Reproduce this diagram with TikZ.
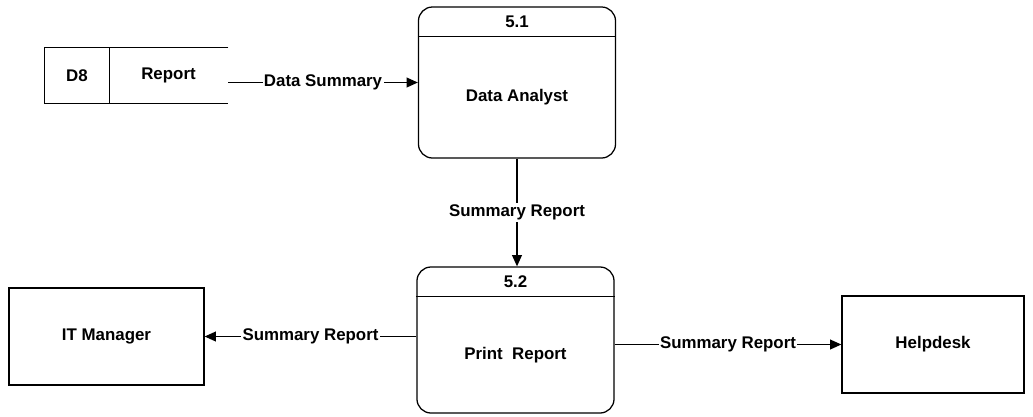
\documentclass[tikz,border=0pt]{standalone}
\usepackage{fontspec}
\setmainfont{Liberation Sans}
\usetikzlibrary{positioning,calc,arrows.meta}

\tikzset{
    box/.style={draw, line width=0.9pt, inner sep=0pt},
    proc/.style={box, rounded corners=10pt, minimum width=4.925cm},
    flow/.style={line width=0.9pt, -{Triangle[length=8pt,width=7pt]}},
    lbl/.style={fill=white, inner sep=1pt},
}

\begin{document}
\begin{tikzpicture}[x=0.025cm, y=-0.025cm, font=\fontsize{12}{14}\selectfont\bfseries]
    \useasboundingbox (0,0) rectangle (1033,416);

    % data store
    \node (d8)  [minimum width=1.6cm, minimum height=1.375cm, inner sep=0pt] at (77,75.5) {D8};
    \node (rep) [minimum width=2.975cm, minimum height=1.375cm, inner sep=0pt] at (168.5,75.5) {Report};
    \draw[line width=0.9pt] (rep.north east) -- (d8.north west) -- (d8.south west) -- (rep.south east);
    \draw[line width=0.9pt] (d8.north east) -- (d8.south east);

    % processes
    \node (p51) [proc, minimum height=3.775cm] at (517,82.5) {};
    \draw[line width=0.9pt] ([yshift=-0.75cm]p51.north west) -- ([yshift=-0.75cm]p51.north east);
    \node (n51) at ([yshift=-0.375cm]p51.north) {5.1};
    \node (t51) at (517,97.5) {Data Analyst};

    \node (p52) [proc, minimum height=3.65cm] at (515.5,340) {};
    \draw[line width=0.9pt] ([yshift=-0.75cm]p52.north west) -- ([yshift=-0.75cm]p52.north east);
    \node (n52) at ([yshift=-0.375cm]p52.north) {5.2};
    \node (t52) at (515.5,355) {Print\ \ Report};

    % externals
    \node (itm) [box, minimum width=4.875cm, minimum height=2.425cm] at (106.5,336.5) {IT Manager};
    \node (hd)  [box, minimum width=4.55cm, minimum height=2.425cm] at (933,344.5) {Helpdesk};

    % flows
    \draw[flow] (p51.west -| rep.east) -- node[lbl] {Data Summary} (p51.west);
    \draw[flow] (p51.south -| 517,0) -- node[lbl] {Summary Report} (p52.north -| 517,0);
    \draw[flow] (p52.west |- itm) -- node[lbl] {Summary Report} (itm.east);
    \draw[flow] (p52.east |- hd) -- node[lbl] {Summary Report} (hd.west);
\end{tikzpicture}
\end{document}
